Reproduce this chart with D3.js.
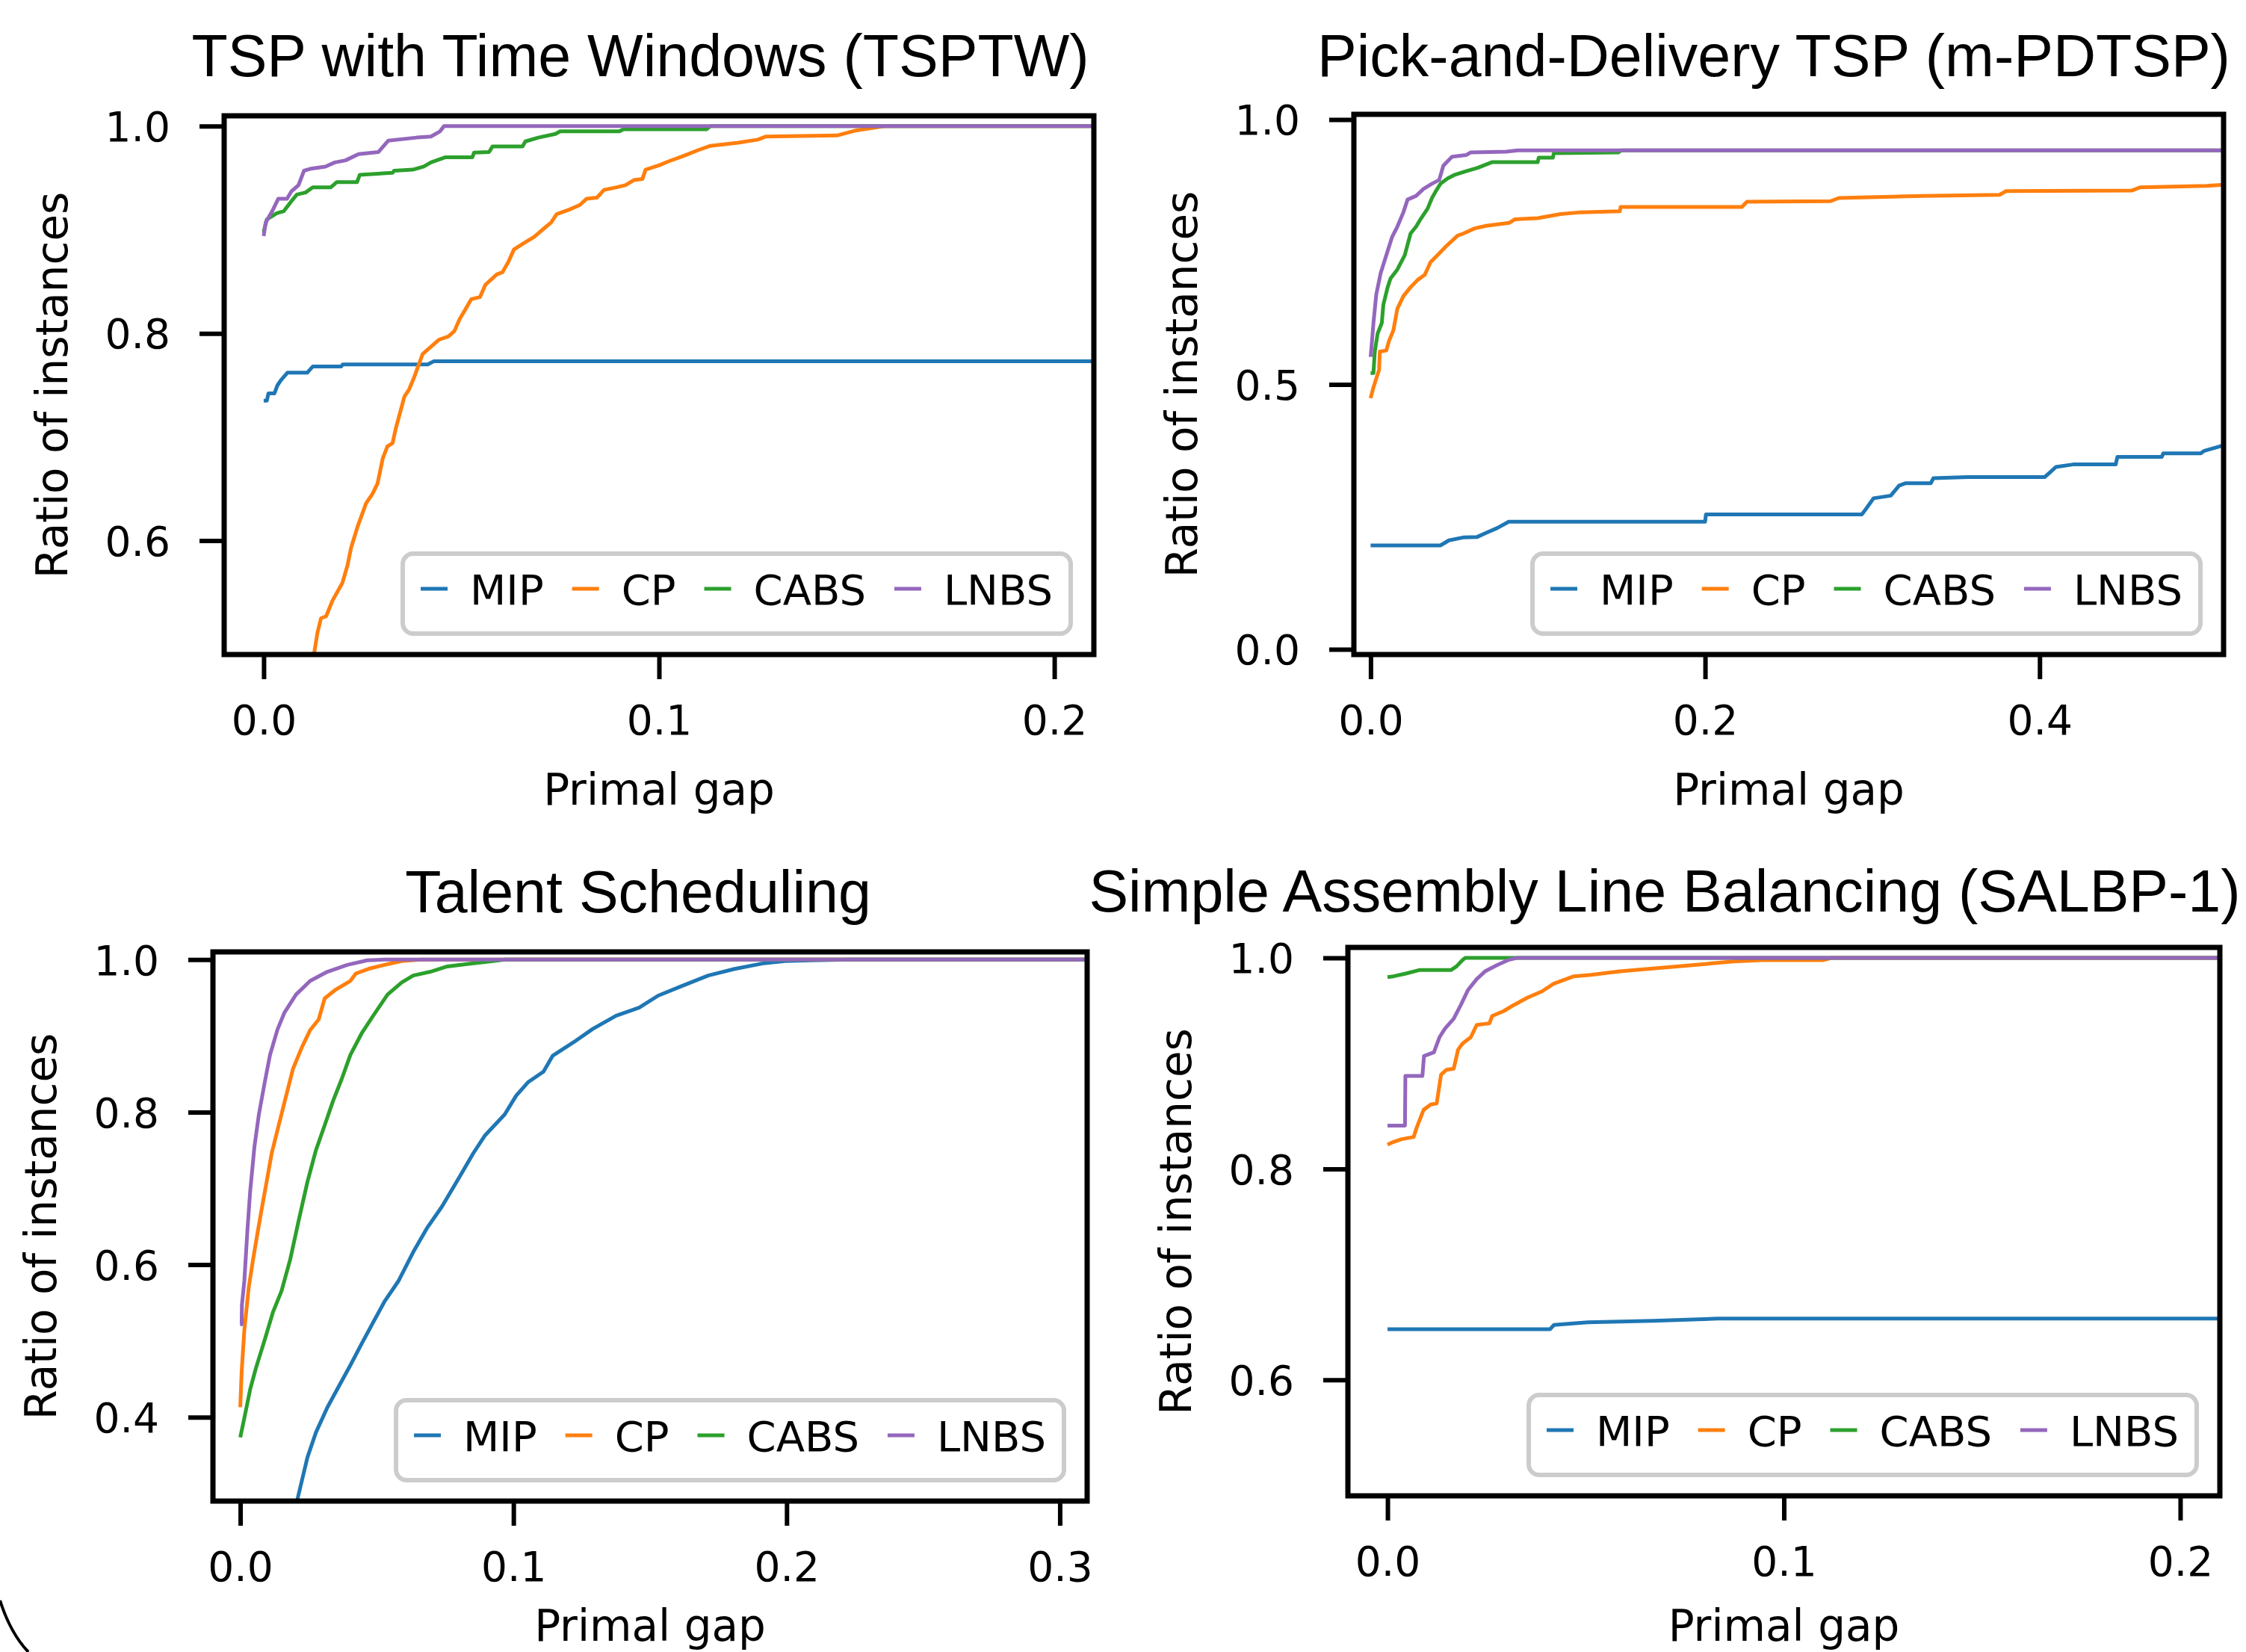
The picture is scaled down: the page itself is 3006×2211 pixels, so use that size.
<!DOCTYPE html>
<html>
<head>
<meta charset="utf-8">
<script src="https://cdn.jsdelivr.net/npm/d3@7"></script>
<style>
  html, body { margin: 0; padding: 0; background: #fff; }
  svg { display: block; }
</style>
</head>
<body>
<div id="chart"></div>
<script>
// legend categories and their colours (matplotlib tab10)
const methods = ['MIP', 'CP', 'CABS', 'LNBS']
const methodColors = ['#1f77b4', '#ff7f0e', '#2ca02c', '#9467bd']

const panelTitles = [
    'TSP with Time Windows (TSPTW)',
    'Pick-and-Delivery TSP (m-PDTSP)',
    'Talent Scheduling',
    'Simple Assembly Line Balancing (SALBP-1)'
]
const xLabel = 'Primal gap'
const yLabel = 'Ratio of instances'

// tick values of each panel
const tsptwXTicks = [0, 0.1, 0.2]
const tsptwYTicks = [0.6, 0.8, 1.0]
const pdtspXTicks = [0, 0.2, 0.4]
const pdtspYTicks = [0, 0.5, 1.0]
const talentXTicks = [0, 0.1, 0.2, 0.3]
const talentYTicks = [0.4, 0.6, 0.8, 1.0]
const salbpXTicks = [0, 0.1, 0.2]
const salbpYTicks = [0.6, 0.8, 1.0]

// ---- TSPTW: [primal gap, ratio of instances] ----
const tsptwMIP = [[0, 0.735], [0.0008, 0.735], [0.0012, 0.742], [0.0027, 0.742], [0.0035, 0.750], [0.0044, 0.755],
    [0.006, 0.762], [0.011, 0.762], [0.0124, 0.768], [0.0196, 0.768], [0.020, 0.770], [0.0415, 0.770],
    [0.043, 0.773], [0.21, 0.773]]
const tsptwCP = [[0.0118, 0.47], [0.0128, 0.492], [0.0136, 0.511], [0.0145, 0.525], [0.0158, 0.527], [0.0174, 0.542],
    [0.0199, 0.559], [0.0212, 0.576], [0.0221, 0.593], [0.0238, 0.614], [0.0259, 0.636], [0.0275, 0.645],
    [0.0288, 0.655], [0.0301, 0.679], [0.0313, 0.691], [0.0326, 0.694], [0.0334, 0.708], [0.0356, 0.739],
    [0.0368, 0.746], [0.0381, 0.758], [0.0402, 0.780], [0.0423, 0.787], [0.0444, 0.794], [0.0467, 0.797],
    [0.0482, 0.802], [0.0496, 0.814], [0.051, 0.823], [0.0525, 0.833], [0.0547, 0.835], [0.0561, 0.847],
    [0.059, 0.857], [0.0604, 0.859], [0.0619, 0.869], [0.0633, 0.881], [0.0662, 0.888], [0.0684, 0.893],
    [0.0705, 0.900], [0.0727, 0.907], [0.0741, 0.915], [0.077, 0.919], [0.080, 0.924], [0.0817, 0.930],
    [0.0843, 0.931], [0.0861, 0.9385], [0.0893, 0.941], [0.0915, 0.943], [0.0937, 0.948], [0.0958, 0.949],
    [0.0966, 0.958], [0.1002, 0.9625], [0.1024, 0.966], [0.106, 0.971], [0.110, 0.977], [0.113, 0.981],
    [0.120, 0.984], [0.125, 0.987], [0.127, 0.990], [0.145, 0.991], [0.150, 0.996], [0.157, 1.0], [0.21, 1.0]]
const tsptwCABS = [[0, 0.898], [0.0008, 0.910], [0.0033, 0.916], [0.0051, 0.918], [0.0073, 0.929], [0.0084, 0.934],
    [0.0106, 0.936], [0.0124, 0.941], [0.017, 0.941], [0.0185, 0.946], [0.0236, 0.946], [0.0243, 0.953],
    [0.0326, 0.955], [0.033, 0.957], [0.0377, 0.958], [0.0405, 0.961], [0.0423, 0.965], [0.046, 0.970],
    [0.0528, 0.970], [0.0532, 0.9745], [0.057, 0.975], [0.0579, 0.9805], [0.0655, 0.9805], [0.0662, 0.9853],
    [0.0695, 0.989], [0.0738, 0.9925], [0.075, 0.995], [0.090, 0.995], [0.091, 0.997], [0.112, 0.997],
    [0.113, 1.0], [0.21, 1.0]]
const tsptwLNBS = [[0, 0.894], [0.0005, 0.907], [0.0023, 0.919], [0.0037, 0.930], [0.0059, 0.930], [0.007, 0.937],
    [0.0088, 0.943], [0.0102, 0.957], [0.012, 0.959], [0.0156, 0.961], [0.018, 0.965], [0.0207, 0.967],
    [0.024, 0.973], [0.029, 0.975], [0.0315, 0.986], [0.0387, 0.989], [0.0423, 0.990], [0.0446, 0.995],
    [0.0456, 1.0], [0.21, 1.0]]

// ---- m-PDTSP ----
const pdtspMIP = [[0, 0.196], [0.0417, 0.196], [0.0468, 0.2055], [0.0553, 0.211], [0.0637, 0.212], [0.069, 0.2196],
    [0.0758, 0.229], [0.0826, 0.2407], [0.200, 0.2407], [0.2005, 0.2546], [0.2937, 0.2546], [0.296, 0.264],
    [0.3007, 0.285], [0.311, 0.290], [0.316, 0.3089], [0.320, 0.3136], [0.335, 0.3136], [0.3365, 0.323],
    [0.357, 0.325], [0.403, 0.325], [0.4097, 0.344], [0.42, 0.3489], [0.4455, 0.3489], [0.4465, 0.363],
    [0.473, 0.363], [0.474, 0.370], [0.4964, 0.370], [0.4985, 0.3747], [0.5067, 0.382], [0.51, 0.385]]
const pdtspCP = [[0, 0.474], [0.0017, 0.4945], [0.0051, 0.528], [0.0055, 0.562], [0.0094, 0.564], [0.011, 0.582],
    [0.0136, 0.602], [0.016, 0.643], [0.0196, 0.6666], [0.0239, 0.6835], [0.028, 0.697], [0.0324, 0.707],
    [0.0358, 0.7306], [0.040, 0.744], [0.0452, 0.761], [0.052, 0.781], [0.0555, 0.785], [0.0623, 0.7947],
    [0.069, 0.7995], [0.0828, 0.805], [0.0862, 0.8117], [0.0999, 0.814], [0.1136, 0.8217], [0.1254, 0.825],
    [0.149, 0.827], [0.1495, 0.835], [0.222, 0.835], [0.225, 0.845], [0.275, 0.846], [0.28, 0.852],
    [0.33, 0.856], [0.376, 0.858], [0.38, 0.865], [0.455, 0.866], [0.46, 0.872], [0.50, 0.875], [0.51, 0.877]]
const pdtspCABS = [[0, 0.5215], [0.0017, 0.5215], [0.0025, 0.562], [0.0042, 0.596], [0.0067, 0.616], [0.0076, 0.650],
    [0.0102, 0.6835], [0.0119, 0.700], [0.016, 0.717], [0.0204, 0.744], [0.0239, 0.785], [0.0272, 0.798],
    [0.0298, 0.8117], [0.0341, 0.832], [0.0367, 0.852], [0.0392, 0.866], [0.0418, 0.879], [0.0461, 0.889],
    [0.0504, 0.896], [0.0571, 0.9027], [0.064, 0.909], [0.0725, 0.9196], [0.0999, 0.9196], [0.1005, 0.928],
    [0.109, 0.928], [0.1095, 0.9365], [0.148, 0.938], [0.15, 0.942], [0.51, 0.942]]
const pdtspLNBS = [[0, 0.552], [0.0005, 0.569], [0.0017, 0.616], [0.0034, 0.670], [0.006, 0.710], [0.0094, 0.744],
    [0.0128, 0.778], [0.016, 0.798], [0.0196, 0.825], [0.0221, 0.849], [0.0272, 0.856], [0.0316, 0.869],
    [0.0367, 0.879], [0.041, 0.886], [0.0435, 0.913], [0.0487, 0.930], [0.0571, 0.933], [0.0597, 0.938],
    [0.081, 0.9395], [0.088, 0.942], [0.51, 0.942]]

// ---- Talent Scheduling ----
const talentMIP = [[0.0202, 0.27], [0.0209, 0.292], [0.0246, 0.3474], [0.0277, 0.380], [0.0319, 0.413], [0.0361, 0.4406],
    [0.0403, 0.468], [0.0444, 0.496], [0.0486, 0.524], [0.0528, 0.5516], [0.058, 0.579], [0.0633, 0.6164],
    [0.0685, 0.6487], [0.0738, 0.676], [0.080, 0.7135], [0.0853, 0.746], [0.0895, 0.769], [0.0968, 0.797],
    [0.101, 0.8215], [0.1053, 0.839], [0.111, 0.853], [0.1144, 0.874], [0.122, 0.8915], [0.129, 0.909],
    [0.1376, 0.9264], [0.146, 0.937], [0.153, 0.9527], [0.1615, 0.965], [0.1713, 0.979], [0.181, 0.9877],
    [0.191, 0.9947], [0.1994, 0.998], [0.209, 0.999], [0.2233, 1.0], [0.31, 1.0]]
const talentCP = [[0, 0.413], [0.0005, 0.459], [0.0015, 0.5146], [0.0031, 0.570], [0.0047, 0.607], [0.0062, 0.639],
    [0.0078, 0.672], [0.0099, 0.7135], [0.0115, 0.746], [0.0141, 0.783], [0.0167, 0.820], [0.0193, 0.8567],
    [0.0225, 0.8845], [0.0256, 0.9076], [0.0287, 0.9214], [0.0309, 0.949], [0.035, 0.9607], [0.0403, 0.972],
    [0.0423, 0.9816], [0.0476, 0.9885], [0.0528, 0.993], [0.0591, 0.998], [0.066, 1.0], [0.31, 1.0]]
const talentCABS = [[0, 0.3736], [0.0015, 0.399], [0.0036, 0.436], [0.0057, 0.464], [0.0089, 0.5008], [0.012, 0.538],
    [0.0151, 0.5654], [0.0183, 0.607], [0.0214, 0.658], [0.0246, 0.7087], [0.0277, 0.750], [0.0309, 0.7827],
    [0.034, 0.815], [0.0371, 0.843], [0.0403, 0.875], [0.0444, 0.903], [0.0486, 0.926], [0.0539, 0.954],
    [0.0591, 0.970], [0.0633, 0.979], [0.0696, 0.984], [0.0758, 0.991], [0.0842, 0.9945], [0.0926, 0.998],
    [0.0968, 1.0], [0.31, 1.0]]
const talentLNBS = [[0, 0.5216], [0.0005, 0.5216], [0.0006, 0.547], [0.0015, 0.579], [0.0026, 0.644], [0.0036, 0.695],
    [0.0052, 0.755], [0.0068, 0.7966], [0.0089, 0.838], [0.0109, 0.875], [0.0136, 0.908], [0.0162, 0.9306],
    [0.0204, 0.954], [0.0256, 0.972], [0.0319, 0.984], [0.0392, 0.993], [0.0465, 0.999], [0.0528, 1.0], [0.31, 1.0]]

// ---- SALBP-1 ----
const salbpMIP = [[0, 0.648], [0.041, 0.648], [0.042, 0.652], [0.0505, 0.6545], [0.067, 0.656], [0.0832, 0.658], [0.21, 0.658]]
const salbpCP = [[0, 0.823], [0.0015, 0.8256], [0.0034, 0.828], [0.0066, 0.8303], [0.0073, 0.8386], [0.0091, 0.856],
    [0.0109, 0.861], [0.0124, 0.862], [0.0135, 0.8893], [0.0149, 0.894], [0.0167, 0.895], [0.0178, 0.913],
    [0.0189, 0.9188], [0.021, 0.9248], [0.0225, 0.9365], [0.0257, 0.938], [0.0264, 0.945], [0.0293, 0.9496],
    [0.0319, 0.9555], [0.0354, 0.9625], [0.039, 0.9684], [0.0419, 0.9755], [0.047, 0.9826], [0.0513, 0.984],
    [0.0586, 0.9873], [0.0658, 0.9897], [0.073, 0.992], [0.0802, 0.9943], [0.0874, 0.9967], [0.0946, 0.998],
    [0.11, 0.998], [0.112, 1.0], [0.21, 1.0]]
const salbpCABS = [[0, 0.9819], [0.0015, 0.9826], [0.0044, 0.985], [0.008, 0.9885], [0.016, 0.9885], [0.0174, 0.992],
    [0.0189, 0.998], [0.0196, 1.0], [0.21, 1.0]]
const salbpLNBS = [[0, 0.841], [0.0044, 0.841], [0.0045, 0.8881], [0.0088, 0.8881], [0.0092, 0.907], [0.0117, 0.9106],
    [0.0131, 0.9248], [0.0145, 0.933], [0.0167, 0.9425], [0.0185, 0.9555], [0.0203, 0.9696], [0.0225, 0.980],
    [0.0246, 0.9873], [0.0275, 0.993], [0.0304, 0.998], [0.0326, 1.0], [0.21, 1.0]]

// layout of the four axes (pixel boxes measured on the figure)
const panels = [
    { title: panelTitles[0], titleX: 857, titleY: 102, box: { left: 300, right: 1464, top: 155, bottom: 876 },
      xDomain: [-0.01, 0.21], yDomain: [0.49, 1.01], xTicks: tsptwXTicks, yTicks: tsptwYTicks,
      series: [tsptwMIP, tsptwCP, tsptwCABS, tsptwLNBS] },
    { title: panelTitles[1], titleX: 2374, titleY: 102, box: { left: 1812, right: 2976, top: 153, bottom: 876 },
      xDomain: [-0.01, 0.51], yDomain: [-0.01, 1.01], xTicks: pdtspXTicks, yTicks: pdtspYTicks,
      series: [pdtspMIP, pdtspCP, pdtspCABS, pdtspLNBS] },
    { title: panelTitles[2], titleX: 854, titleY: 1221, box: { left: 285, right: 1455, top: 1274, bottom: 2009 },
      xDomain: [-0.01, 0.31], yDomain: [0.29, 1.01], xTicks: talentXTicks, yTicks: talentYTicks,
      series: [talentMIP, talentCP, talentCABS, talentLNBS] },
    { title: panelTitles[3], titleX: 2228, titleY: 1220, box: { left: 1804, right: 2971, top: 1268, bottom: 2002 },
      xDomain: [-0.01, 0.21], yDomain: [0.49, 1.01], xTicks: salbpXTicks, yTicks: salbpYTicks,
      series: [salbpMIP, salbpCP, salbpCABS, salbpLNBS] }
]

const W = 3006, H = 2211
const tickFont = 'DejaVu Sans'

const svg = d3.select('#chart')
    .append('svg')
    .attr('width', W)
    .attr('height', H)

svg.append('rect').attr('width', W).attr('height', H).attr('fill', '#fff')

function drawLegend(g, box) {
    const lg = g.append('g')
    const items = lg.selectAll('g.item')
        .data(methods)
        .join('g')
        .attr('class', 'item')
    items.append('line')
        .attr('y1', 47).attr('y2', 47)
        .attr('stroke', (d, i) => methodColors[i])
        .attr('stroke-width', 5)
    items.append('text')
        .attr('y', 68)
        .attr('font-family', tickFont)
        .attr('font-size', 56)
        .attr('fill', '#000')
        .text(d => d)

    // lay the entries out in one row
    let x = 24
    items.each(function () {
        const it = d3.select(this)
        it.select('line').attr('x1', x).attr('x2', x + 36)
        x += 36 + 30
        it.select('text').attr('x', x)
        x += this.querySelector('text').getComputedTextLength() + 38
    })
    const w = x - 38 + 24, h = 107

    lg.insert('rect', ':first-child')
        .attr('width', w).attr('height', h)
        .attr('rx', 14).attr('ry', 14)
        .attr('fill', '#fff').attr('fill-opacity', 0.8)
        .attr('stroke', '#cccccc').attr('stroke-width', 6)

    lg.attr('transform', 'translate(' + (box.right - 31 - w) + ',' + (box.bottom - 28 - h) + ')')
}

function drawPanel(p, idx) {
    const b = p.box
    const x = d3.scaleLinear().domain(p.xDomain).range([b.left, b.right])
    const y = d3.scaleLinear().domain(p.yDomain).range([b.bottom, b.top])

    const g = svg.append('g')

    // title
    g.append('text')
        .attr('x', p.titleX).attr('y', p.titleY)
        .attr('text-anchor', 'middle')
        .attr('font-family', 'Liberation Sans, Arial, sans-serif')
        .attr('font-size', 79)
        .text(p.title)

    // clip the curves to the axes area
    const clipId = 'clip' + idx
    g.append('clipPath').attr('id', clipId)
        .append('rect')
        .attr('x', b.left).attr('y', b.top)
        .attr('width', b.right - b.left).attr('height', b.bottom - b.top)

    const line = d3.line()
        .x(d => x(d[0]))
        .y(d => y(d[1]))

    g.append('g')
        .attr('clip-path', 'url(#' + clipId + ')')
        .selectAll('path')
        .data(p.series)
        .join('path')
        .attr('fill', 'none')
        .attr('stroke', (d, i) => methodColors[i])
        .attr('stroke-width', 5)
        .attr('stroke-linejoin', 'round')
        .attr('d', line)

    // x axis
    const xAxis = g.append('g')
        .attr('transform', 'translate(0,' + b.bottom + ')')
        .call(d3.axisBottom(x).tickValues(p.xTicks).tickFormat(d3.format('.1f')).tickSizeOuter(0).tickSize(33))
    xAxis.select('.domain').remove()
    xAxis.selectAll('.tick line').attr('stroke', '#000').attr('stroke-width', 6)
    xAxis.selectAll('.tick text')
        .attr('y', 107).attr('dy', 0)
        .attr('font-family', tickFont).attr('font-size', 55).attr('fill', '#000')

    // y axis
    const yAxis = g.append('g')
        .attr('transform', 'translate(' + b.left + ',0)')
        .call(d3.axisLeft(y).tickValues(p.yTicks).tickFormat(d3.format('.1f')).tickSizeOuter(0).tickSize(33))
    yAxis.select('.domain').remove()
    yAxis.selectAll('.tick line').attr('stroke', '#000').attr('stroke-width', 6)
    yAxis.selectAll('.tick text')
        .attr('x', -72).attr('dy', '0.36em')
        .attr('font-family', tickFont).attr('font-size', 55).attr('fill', '#000')

    // frame
    g.append('rect')
        .attr('x', b.left).attr('y', b.top)
        .attr('width', b.right - b.left).attr('height', b.bottom - b.top)
        .attr('fill', 'none').attr('stroke', '#000').attr('stroke-width', 7)

    drawLegend(g, b)

    // axis labels (kept just inside the bottom edge)
    g.append('text')
        .attr('x', (b.left + b.right) / 2)
        .attr('y', Math.min(b.bottom + 201, H - 15))
        .attr('text-anchor', 'middle')
        .attr('font-family', tickFont).attr('font-size', 58)
        .text(xLabel)

    g.append('text')
        .attr('transform', 'translate(' + (b.left - 210) + ',' + (b.top + b.bottom) / 2 + ') rotate(-90)')
        .attr('text-anchor', 'middle')
        .attr('font-family', tickFont).attr('font-size', 58)
        .text(yLabel)
}

panels.forEach(drawPanel)

// corner arc left over at the lower-left edge of the figure
svg.append('path')
    .attr('d', 'M0,2142 Q14,2186 38,2211')
    .attr('fill', 'none')
    .attr('stroke', '#000')
    .attr('stroke-width', 4)
</script>
</body>
</html>
